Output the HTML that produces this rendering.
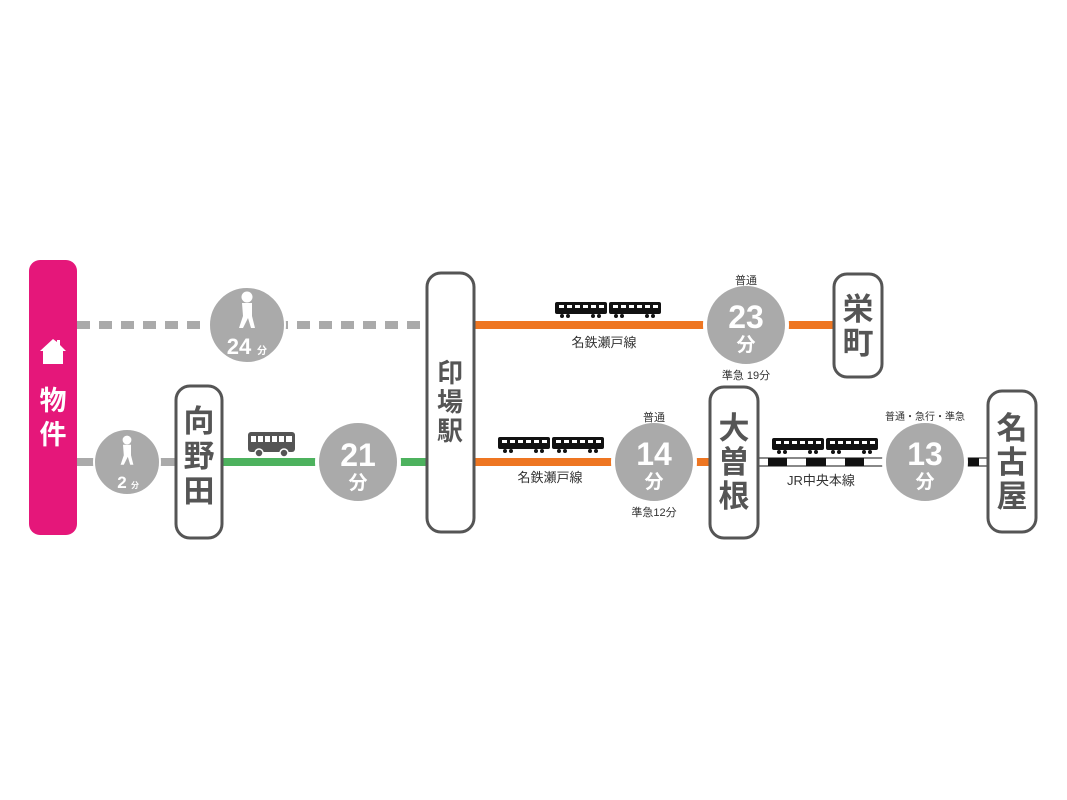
<!DOCTYPE html>
<html><head><meta charset="utf-8"><style>
html,body{margin:0;padding:0;background:#fff;}
svg{display:block;}
text{font-family:"Liberation Sans","Noto Sans CJK JP",sans-serif;}
.st{font-weight:bold;fill:#555;font-size:31px;text-anchor:middle;}
.num{font-weight:bold;fill:#fff;font-size:32px;text-anchor:middle;}
.fun{font-weight:bold;fill:#fff;font-size:19px;text-anchor:middle;}
.lbl{fill:#333;font-size:13px;text-anchor:middle;}
.sm{fill:#333;font-size:11px;text-anchor:middle;}
</style></head><body>
<svg width="1067" height="800" viewBox="0 0 1067 800" xmlns="http://www.w3.org/2000/svg">
<defs>
<g id="car">
<rect x="0" y="0" width="52" height="12" rx="2" fill="#111"/>
<g fill="#fff"><rect x="4" y="3" width="5" height="3"/><rect x="12" y="3" width="5" height="3"/><rect x="20" y="3" width="5" height="3"/><rect x="28" y="3" width="5" height="3"/><rect x="36" y="3" width="5" height="3"/><rect x="44" y="3" width="5" height="3"/></g>
<g fill="#111"><circle cx="7" cy="14" r="2"/><circle cx="13" cy="14" r="2"/><circle cx="38" cy="14" r="2"/><circle cx="44" cy="14" r="2"/></g>
</g>
<g id="train"><use href="#car" x="0" y="0"/><use href="#car" x="54" y="0"/></g>
<g id="walker" fill="#fff">
<circle cx="0" cy="0" r="5.5"/>
<path d="M-5,6 L5,6 L5,19 L8,31 L4,31 L1,21 L-4,31 L-8,31 L-4,19 Z"/>
</g>
</defs>

<line x1="77" y1="325" x2="425" y2="325" stroke="#aaa" stroke-width="8" stroke-dasharray="13,9"/>
<circle cx="247" cy="325" r="38" fill="#aaa" stroke="#fff" stroke-width="2"/>
<use href="#walker" x="247" y="297"/>
<text x="239" y="354" class="num" style="font-size:22px">24</text>
<text x="262" y="354" class="fun" style="font-size:10px">分</text>

<line x1="77" y1="462" x2="175" y2="462" stroke="#aaa" stroke-width="8"/>
<circle cx="127" cy="462" r="33" fill="#aaa" stroke="#fff" stroke-width="2"/>
<use href="#walker" x="127" y="440" transform="translate(127 440) scale(0.8) translate(-127 -440)"/>
<text x="122" y="488" class="num" style="font-size:17px">2</text>
<text x="135" y="488" class="fun" style="font-size:8px">分</text>

<line x1="222" y1="462" x2="427" y2="462" stroke="#4db25e" stroke-width="8"/>
<rect x="248" y="432" width="47" height="20" rx="3" fill="#555"/>
<g fill="#fff"><rect x="251" y="436" width="5" height="6"/><rect x="258" y="436" width="5" height="6"/><rect x="265" y="436" width="5" height="6"/><rect x="272" y="436" width="5" height="6"/><rect x="279" y="436" width="5" height="6"/><rect x="286" y="436" width="6" height="6"/></g>
<circle cx="259" cy="453" r="4" fill="#555" stroke="#fff" stroke-width="1.5"/>
<circle cx="284" cy="453" r="4" fill="#555" stroke="#fff" stroke-width="1.5"/>
<circle cx="358" cy="462" r="41" fill="#aaa" stroke="#fff" stroke-width="4"/>
<text x="358" y="466" class="num">21</text>
<text x="358" y="489" class="fun">分</text>

<line x1="474" y1="325" x2="833" y2="325" stroke="#ee7622" stroke-width="8"/>
<use href="#train" x="555" y="302"/>
<text x="604" y="347" class="lbl">名鉄瀬戸線</text>
<circle cx="746" cy="325" r="41" fill="#aaa" stroke="#fff" stroke-width="4"/>
<text x="746" y="328" class="num">23</text>
<text x="746" y="351" class="fun">分</text>
<text x="746" y="284" class="sm">普通</text>
<text x="746" y="379" class="sm">準急 19分</text>

<line x1="474" y1="462" x2="710" y2="462" stroke="#ee7622" stroke-width="8"/>
<use href="#train" x="498" y="437"/>
<text x="550" y="482" class="lbl">名鉄瀬戸線</text>
<circle cx="654" cy="462" r="41" fill="#aaa" stroke="#fff" stroke-width="4"/>
<text x="654" y="465" class="num">14</text>
<text x="654" y="488" class="fun">分</text>
<text x="654" y="421" class="sm">普通</text>
<text x="654" y="516" class="sm">準急12分</text>

<rect x="758" y="458" width="126" height="8" fill="#fff" stroke="#111" stroke-width="1"/>
<g fill="#111"><rect x="768" y="458" width="19" height="8"/><rect x="806" y="458" width="20" height="8"/><rect x="845" y="458" width="19" height="8"/></g>
<use href="#train" x="772" y="438"/>
<text x="821" y="485" class="lbl">JR中央本線</text>
<rect x="965" y="458" width="23" height="8" fill="#fff" stroke="#111" stroke-width="1"/>
<rect x="965" y="458" width="14" height="8" fill="#111"/>
<circle cx="925" cy="462" r="41" fill="#aaa" stroke="#fff" stroke-width="4"/>
<text x="925" y="465" class="num">13</text>
<text x="925" y="488" class="fun">分</text>
<text x="925" y="420" class="sm" style="font-size:10px">普通・急行・準急</text>

<rect x="29" y="260" width="48" height="275" rx="11" fill="#e5177a"/>
<path d="M53,339 L40,351 L43,351 L43,364 L63,364 L63,351 L66,351 L60,345 L60,340 L57,340 L57,342 Z" fill="#fff"/>
<text x="53" y="410" class="st" style="fill:#fff;font-size:27px">物</text>
<text x="53" y="444" class="st" style="fill:#fff;font-size:27px">件</text>

<rect x="176" y="386" width="46" height="152" rx="14" fill="#fff" stroke="#555" stroke-width="3"/>
<text x="199" y="432" class="st">向</text><text x="199" y="467" class="st">野</text><text x="199" y="502" class="st">田</text>

<rect x="427" y="273" width="47" height="259" rx="14" fill="#fff" stroke="#555" stroke-width="3"/>
<text x="450" y="382" class="st" style="font-size:26px">印</text><text x="450" y="411" class="st" style="font-size:26px">場</text><text x="450" y="440" class="st" style="font-size:26px">駅</text>

<rect x="834" y="274" width="48" height="103" rx="13" fill="#fff" stroke="#555" stroke-width="3"/>
<text x="858" y="320" class="st">栄</text><text x="858" y="354" class="st">町</text>

<rect x="710" y="387" width="48" height="151" rx="14" fill="#fff" stroke="#555" stroke-width="3"/>
<text x="734" y="439" class="st">大</text><text x="734" y="473" class="st">曽</text><text x="734" y="507" class="st">根</text>

<rect x="988" y="391" width="48" height="141" rx="14" fill="#fff" stroke="#555" stroke-width="3"/>
<text x="1012" y="439" class="st">名</text><text x="1012" y="473" class="st">古</text><text x="1012" y="507" class="st">屋</text>
</svg>
</body></html>
